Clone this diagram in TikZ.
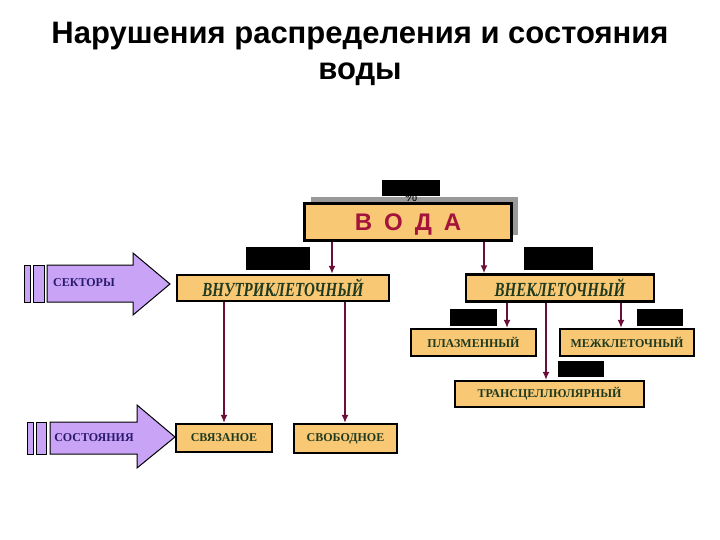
\documentclass[tikz,border=0pt]{standalone}
\usepackage{fontspec}
\setmainfont{Liberation Serif}
\setsansfont{Liberation Sans}
\usepackage{graphicx}
\usetikzlibrary{arrows.meta,shadows}
\definecolor{boxfill}{HTML}{F8C874}
\definecolor{boxtext}{HTML}{1F3A1F}
\definecolor{vodared}{HTML}{A3133B}
\definecolor{linkcol}{HTML}{6B0F3A}
\definecolor{lilac}{HTML}{C9A3F5}
\definecolor{lilactext}{HTML}{2A1A6E}

\begin{document}
\begin{tikzpicture}[x=1pt,y=-1pt,
   sector/.style={draw=black,line width=2.5pt,fill=boxfill,inner sep=0pt,
      text=boxtext,font=\bfseries\itshape\fontsize{20}{20}\selectfont},
   part/.style={draw=black,line width=2.2pt,fill=boxfill,inner sep=0pt,
      text=boxtext,font=\bfseries\fontsize{12}{12}\selectfont},
   hidden/.style={fill=black,inner sep=0pt},
   link/.style={linkcol,line width=1.5pt,-{Latex[length=8pt,width=7pt]}},
   bigarrow/.style={fill=lilac,draw=black,line width=1pt},
   arrowlabel/.style={text=lilactext,font=\bfseries\fontsize{12}{12}\selectfont}]
   \useasboundingbox (0,0) rectangle (720,540);

   % title
   \node[font=\sffamily\bfseries\fontsize{31}{31}\selectfont,anchor=base] (title1) at (360,44) {Нарушения распределения и состояния};
   \node[font=\sffamily\bfseries\fontsize{31}{31}\selectfont,anchor=base] (title2) at (360,80) {воды};

   % top box
   \node[draw=black,line width=3pt,fill=boxfill,minimum width=207pt,minimum height=37pt,
      text=vodared,font=\sffamily\bfseries\fontsize{24}{24}\selectfont,text depth=0pt,
      drop shadow={shadow xshift=6pt,shadow yshift=6pt,fill=gray!80,opacity=1}]
      (voda) at (408,222) {В\hspace{12pt}О\hspace{12pt}Д\hspace{12pt}А};
   \node[font=\sffamily\fontsize{14}{14}\selectfont] (pct) at (411,197) {\%};
   \node[hidden,minimum width=58pt,minimum height=16pt] (mask1) at (411,188) {};

   % sectors
   \node[sector,minimum width=212pt,minimum height=26pt] (vnutri) at (283,288) {\scalebox{0.75}[1]{ВНУТРИКЛЕТОЧНЫЙ}};
   \node[sector,minimum width=188pt,minimum height=27pt] (vne) at (560,288) {\scalebox{0.75}[1]{ВНЕКЛЕТОЧНЫЙ}};

   % parts
   \node[part,minimum width=125pt,minimum height=27pt] (plazma) at (473.5,342.5) {ПЛАЗМЕННЫЙ};
   \node[part,minimum width=134pt,minimum height=27pt] (mezh) at (627,342.5) {МЕЖКЛЕТОЧНЫЙ};
   \node[part,minimum width=189pt,minimum height=26pt] (trans) at (549.5,394) {ТРАНСЦЕЛЛЮЛЯРНЫЙ};
   \node[part,minimum width=96pt,minimum height=28pt] (svyaz) at (224,438) {СВЯЗАНОЕ};
   \node[part,minimum width=103pt,minimum height=29pt] (svobod) at (345.5,438.5) {СВОБОДНОЕ};

   % links
   \draw[link] (voda.south -| 332,0) -- (vnutri.north -| 332,0);
   \draw[link] (voda.south -| 484,0) -- (vne.north -| 484,0);
   \draw[link] (vne.south -| 507,0) -- (plazma.north -| 507,0);
   \draw[link] (vne.south -| 546,0) -- (trans.north -| 546,0);
   \draw[link] (vne.south -| 621,0) -- (mezh.north -| 621,0);
   \draw[link] (vnutri.south -| 224,0) -- (svyaz.north);
   \draw[link] (vnutri.south -| 345,0) -- (svobod.north -| 345,0);

   % black masks
   \node[hidden,minimum width=64pt,minimum height=23pt] (mask2) at (278,258.5) {};
   \node[hidden,minimum width=69pt,minimum height=23pt] (mask3) at (558.5,258.5) {};
   \node[hidden,minimum width=47pt,minimum height=17pt] (mask4) at (473.5,317.5) {};
   \node[hidden,minimum width=46pt,minimum height=17pt] (mask5) at (660,317.5) {};
   \node[hidden,minimum width=46pt,minimum height=16pt] (mask6) at (581,369) {};

   % big arrows
   \draw[bigarrow] (24,265) rectangle (30,302);
   \draw[bigarrow] (33,265) rectangle (44,302);
   \draw[bigarrow] (47,265) -- (133,265) -- (133,253) -- (170,284) -- (133,315) -- (133,302) -- (47,302) -- cycle;
   \node[arrowlabel] (sectors) at (84,283) {СЕКТОРЫ};

   \draw[bigarrow] (27,422) rectangle (33,454);
   \draw[bigarrow] (36,422) rectangle (46,454);
   \draw[bigarrow] (50,422) -- (137,422) -- (137,405) -- (175,437) -- (137,468) -- (137,454) -- (50,454) -- cycle;
   \node[arrowlabel] (states) at (94,438) {СОСТОЯНИЯ};
\end{tikzpicture}
\end{document}
